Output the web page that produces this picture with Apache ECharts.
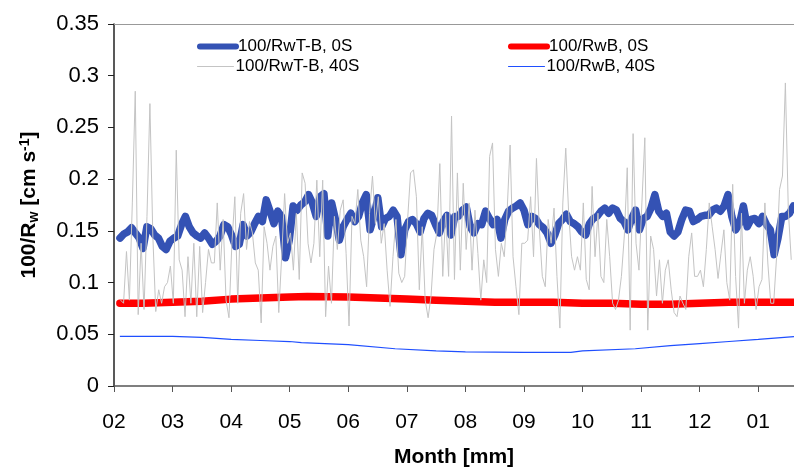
<!DOCTYPE html>
<html>
<head>
<meta charset="utf-8">
<script src="https://cdn.jsdelivr.net/npm/echarts@6/dist/echarts.min.js"></script>
<style>
  html, body { margin: 0; padding: 0; background: #fff; }
  #chart { width: 794px; height: 468px; }
</style>
</head>
<body>
<div id="chart"></div>
<script>
// x is in months, 0 = tick "02"
const monthLabels = ['02', '03', '04', '05', '06', '07', '08', '09', '10', '11', '12', '01'];

// 100/RwT-B, 0S  (every 2 days)
const rwtB0SStart = 0.102, rwtB0SStep = 0.0657;
const rwtB0S = [
  0.143, 0.147, 0.149, 0.153, 0.148, 0.143, 0.133, 0.154, 0.152, 0.146, 0.143, 0.135, 0.132, 0.140, 0.143, 0.145, 0.156, 0.164, 0.154, 0.148, 0.145, 0.143, 0.148, 0.143, 0.137,
  0.140, 0.145, 0.156, 0.154, 0.146, 0.135, 0.137, 0.156, 0.145, 0.149, 0.157, 0.164, 0.159, 0.180, 0.169, 0.157, 0.169, 0.164, 0.124, 0.141, 0.174, 0.170, 0.175, 0.178, 0.185, 0.177,
  0.164, 0.183, 0.186, 0.145, 0.177, 0.161, 0.141, 0.154, 0.161, 0.167, 0.159, 0.164, 0.177, 0.185, 0.151, 0.164, 0.182, 0.154, 0.162, 0.164, 0.170, 0.164, 0.127, 0.151, 0.159, 0.161,
  0.157, 0.149, 0.162, 0.167, 0.165, 0.156, 0.148, 0.159, 0.165, 0.146, 0.164, 0.164, 0.170, 0.173, 0.154, 0.148, 0.157, 0.156, 0.169, 0.162, 0.156, 0.161, 0.143, 0.161, 0.169, 0.172,
  0.174, 0.177, 0.170, 0.156, 0.164, 0.162, 0.156, 0.153, 0.148, 0.138, 0.146, 0.157, 0.161, 0.166, 0.159, 0.157, 0.154, 0.149, 0.146, 0.157, 0.162, 0.164, 0.169, 0.172, 0.167, 0.172,
  0.170, 0.162, 0.159, 0.151, 0.162, 0.170, 0.151, 0.162, 0.164, 0.172, 0.185, 0.169, 0.164, 0.167, 0.149, 0.145, 0.149, 0.161, 0.170, 0.169, 0.159, 0.161, 0.164, 0.165, 0.165, 0.170,
  0.172, 0.169, 0.174, 0.185, 0.164, 0.151, 0.157, 0.174, 0.154, 0.161, 0.162, 0.157, 0.164, 0.156, 0.151, 0.127, 0.143, 0.164, 0.164, 0.167, 0.174
];

// 100/RwT-B, 40S
const rwtB40SStart = 0.113, rwtB40SStep = 0.05;
const rwtB40S = [
  0.083, 0.080, 0.130, 0.083, 0.177, 0.285, 0.069, 0.138, 0.074, 0.164, 0.273, 0.145, 0.072, 0.093, 0.080, 0.096, 0.100, 0.116, 0.080, 0.228, 0.122, 0.112, 0.067, 0.125, 0.080, 0.138, 0.067, 0.135, 0.071, 0.100, 0.132, 0.119,
  0.119, 0.177, 0.112, 0.161, 0.083, 0.066, 0.138, 0.183, 0.080, 0.167, 0.186, 0.132, 0.159, 0.148, 0.119, 0.112, 0.061, 0.154, 0.138, 0.112, 0.135, 0.145, 0.071, 0.125, 0.186, 0.138, 0.148, 0.112, 0.167, 0.103, 0.206, 0.196, 0.138, 0.119,
  0.138, 0.199, 0.125, 0.199, 0.067, 0.116, 0.080, 0.164, 0.132, 0.170, 0.180, 0.128, 0.058, 0.164, 0.157, 0.190, 0.141, 0.125, 0.096, 0.167, 0.203, 0.157, 0.183, 0.138, 0.157, 0.112, 0.077, 0.125, 0.161, 0.109, 0.100, 0.106, 0.161, 0.206,
  0.209, 0.183, 0.093, 0.154, 0.083, 0.066, 0.087, 0.132, 0.148, 0.215, 0.106, 0.167, 0.106, 0.261, 0.103, 0.206, 0.112, 0.196, 0.132, 0.177, 0.112, 0.170, 0.128, 0.083, 0.122, 0.100, 0.222, 0.235, 0.132, 0.106, 0.138, 0.125, 0.170, 0.233,
  0.125, 0.096, 0.069, 0.138, 0.138, 0.141, 0.183, 0.125, 0.220, 0.151, 0.106, 0.096, 0.161, 0.138, 0.172, 0.106, 0.056, 0.177, 0.230, 0.167, 0.125, 0.112, 0.125, 0.112, 0.177, 0.103, 0.093, 0.193, 0.125, 0.167, 0.106, 0.100, 0.161, 0.125,
  0.080, 0.074, 0.083, 0.106, 0.145, 0.211, 0.054, 0.244, 0.138, 0.112, 0.177, 0.240, 0.054, 0.145, 0.132, 0.087, 0.122, 0.080, 0.112, 0.122, 0.093, 0.071, 0.067, 0.087, 0.080, 0.074, 0.125, 0.148, 0.106, 0.106, 0.112, 0.096, 0.132, 0.177,
  0.154, 0.132, 0.104, 0.128, 0.151, 0.100, 0.083, 0.195, 0.106, 0.056, 0.167, 0.080, 0.112, 0.125, 0.106, 0.074, 0.096, 0.103, 0.177, 0.119, 0.080, 0.080, 0.125, 0.190, 0.203, 0.293, 0.170, 0.122
];

// 100/RwB, 0S
const rwb0SMonths = [0.10, 0.5, 1.0, 1.5, 2.0, 2.5, 3.0, 3.3, 4.0, 4.5, 5.0, 5.5, 6.0, 6.5, 7.0, 7.5, 8.0, 8.5, 9.0, 9.5, 10.0, 10.5, 11.0, 11.61];
const rwb0S = [0.080, 0.080, 0.081, 0.082, 0.084, 0.085, 0.086, 0.0865, 0.086, 0.085, 0.084, 0.083, 0.082, 0.081, 0.081, 0.081, 0.080, 0.080, 0.079, 0.079, 0.080, 0.081, 0.081, 0.081];

// 100/RwB, 40S
const rwb40SMonths = [0.10, 1.0, 1.5, 2.0, 2.5, 3.0, 3.2, 4.0, 4.8, 5.5, 6.0, 7.0, 7.8, 8.0, 8.9, 9.5, 10.0, 10.5, 11.0, 11.61];
const rwb40S = [0.048, 0.048, 0.047, 0.045, 0.044, 0.043, 0.042, 0.040, 0.036, 0.034, 0.033, 0.0325, 0.0325, 0.034, 0.036, 0.039, 0.041, 0.043, 0.045, 0.0477];

const seriesNames = ['100/RwT-B, 0S', '100/RwB, 0S', '100/RwT-B, 40S', '100/RwB, 40S'];

const chart = echarts.init(document.getElementById('chart'));
const font = 'Liberation Sans, Arial, sans-serif';

function legendAt(name, left, top, lineWidth) {
  return {
    data: [name], left: left, top: top, padding: 0,
    itemWidth: 36, itemHeight: 14, itemGap: 0,
    itemStyle: { opacity: 0 },
    lineStyle: { width: lineWidth, cap: 'round' },
    textStyle: { fontFamily: font, fontSize: 17, color: '#000', padding: [0, 0, 0, -3] }
  };
}

chart.setOption({
  animation: false,
  backgroundColor: '#fff',
  grid: { left: 114, right: 0, top: 24, bottom: 82, outerBoundsMode: 'none', containLabel: false },
  legend: [
    legendAt(seriesNames[0], 197, 38, 6),
    legendAt(seriesNames[1], 508, 38, 6),
    legendAt(seriesNames[2], 197, 58, 1),
    legendAt(seriesNames[3], 508, 58, 1)
  ],
  xAxis: [{
    type: 'value', min: 0, max: 11.61, interval: 1,
    name: 'Month [mm]', nameLocation: 'middle', nameGap: 61,
    nameTextStyle: { fontFamily: font, fontSize: 21, fontWeight: 'bold', color: '#000' },
    axisLine: { lineStyle: { color: '#555', width: 1.5 } },
    axisTick: { inside: false, length: 6, lineStyle: { color: '#555' } },
    axisLabel: {
      fontFamily: font, fontSize: 21, color: '#000', margin: 26, showMaxLabel: false,
      formatter: v => Number.isInteger(v) ? monthLabels[v] : ''
    },
    splitLine: { show: false }
  }, {
    type: 'value', min: 0, max: 11.61, position: 'top',
    axisLine: { lineStyle: { color: '#999', width: 1 } },
    axisTick: { show: false }, axisLabel: { show: false }, splitLine: { show: false }
  }],
  yAxis: {
    type: 'value', min: 0, max: 0.35, interval: 0.05,
    name: '100/R{sub|w} [cm s{sup|-1}]', nameLocation: 'middle', nameGap: 73, nameRotate: 90,
    nameTextStyle: {
      fontFamily: font, fontSize: 21, fontWeight: 'bold', color: '#000',
      rich: {
        sub: { fontFamily: font, fontSize: 14, fontWeight: 'bold', verticalAlign: 'bottom', padding: [9, 0, 0, 0] },
        sup: { fontFamily: font, fontSize: 14, fontWeight: 'bold', verticalAlign: 'top', padding: [0, 0, 9, 0] }
      }
    },
    axisLine: { show: true, lineStyle: { color: '#222', width: 1.5 } },
    axisTick: { show: true, inside: false, length: 6, lineStyle: { color: '#222' } },
    axisLabel: { fontFamily: font, fontSize: 22, color: '#000', margin: 15 },
    splitLine: { show: false }
  },
  series: [
    {
      name: seriesNames[1], type: 'line', symbol: 'none', z: 2,
      data: rwb0SMonths.map((m, i) => [m, rwb0S[i]]),
      lineStyle: { color: '#ff0000', width: 7.5, cap: 'round' }, itemStyle: { color: '#ff0000' }
    },
    {
      name: seriesNames[0], type: 'line', symbol: 'none', z: 3,
      data: rwtB0S.map((v, i) => [rwtB0SStart + i * rwtB0SStep, v]),
      lineStyle: { color: '#3452b4', width: 7.5, cap: 'round', join: 'round' }, itemStyle: { color: '#3452b4' }
    },
    {
      name: seriesNames[2], type: 'line', symbol: 'none', z: 4,
      data: rwtB40S.map((v, i) => [rwtB40SStart + i * rwtB40SStep, v]),
      lineStyle: { color: '#c4c4c4', width: 1 }, itemStyle: { color: '#c4c4c4' }
    },
    {
      name: seriesNames[3], type: 'line', symbol: 'none', z: 5,
      data: rwb40SMonths.map((m, i) => [m, rwb40S[i]]),
      lineStyle: { color: '#1f4fff', width: 1.2 }, itemStyle: { color: '#1f4fff' }
    }
  ]
});
</script>
</body>
</html>
